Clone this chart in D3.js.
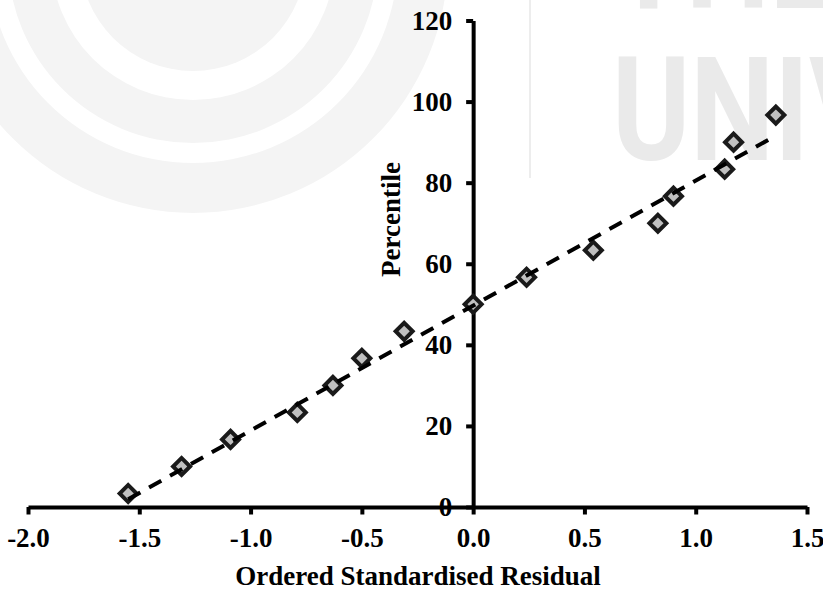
<!DOCTYPE html>
<html><head><meta charset="utf-8">
<script src="https://cdn.jsdelivr.net/npm/d3@7"></script>
<style>html,body{margin:0;padding:0;background:#fff;}svg{display:block;}</style>
</head><body>
<svg id="chart" width="823" height="590"></svg>
<script>
// Data
const residuals = [-1.55, -1.31, -1.09, -0.79, -0.63, -0.50, -0.31, 0.00, 0.24, 0.54, 0.83, 0.90, 1.13, 1.17, 1.36];
const percentiles = [3.33, 10.0, 16.67, 23.33, 30.0, 36.67, 43.33, 50.0, 56.67, 63.33, 70.0, 76.67, 83.33, 90.0, 96.67];
const trendX = [-1.55, 1.36];
const trendY = [1.9, 91.6];
const xTicks = [-2.0, -1.5, -1.0, -0.5, 0.0, 0.5, 1.0, 1.5];
const yTicks = [0, 20, 40, 60, 80, 100, 120];
const xTitle = "Ordered Standardised Residual";
const yTitle = "Percentile";

const svg = d3.select("#chart");
const font = "'Liberation Serif', 'Times New Roman', serif";

// faint watermark background
const wm = svg.append("g");
const arc = d3.arc();
[[205, 255], [142, 185], [0, 113]].forEach(([r0, r1]) => {
  wm.append("path").attr("transform", "translate(193,-42)")
    .attr("d", arc({innerRadius: r0, outerRadius: r1, startAngle: 0, endAngle: 2 * Math.PI}))
    .attr("fill", "#f4f4f4");
});
wm.append("line").attr("x1", 530).attr("x2", 530).attr("y1", 0).attr("y2", 178)
  .attr("stroke", "#ededed").attr("stroke-width", 2);
wm.append("text").attr("transform", "translate(612,160) scale(0.82,1)").text("UNIV")
  .attr("font-family", "Roboto, sans-serif").attr("font-weight", "bold").attr("font-size", 145).attr("fill", "#eaeaea");
wm.append("text").attr("transform", "translate(612,8) scale(0.82,1)").text("THE")
  .attr("font-family", "Roboto, sans-serif").attr("font-weight", "bold").attr("font-size", 145).attr("fill", "#eaeaea");

const x = d3.scaleLinear().domain([-2, 1.5]).range([28, 807]);
const y = d3.scaleLinear().domain([0, 120]).range([507, 20.5]);

// X axis
const gx = svg.append("g").attr("transform", `translate(0,${y(0)})`)
  .call(d3.axisBottom(x).tickValues(xTicks).tickSize(7.5).tickSizeOuter(0).tickPadding(13)
    .tickFormat(d => d.toFixed(1)));
// Y axis
const gy = svg.append("g").attr("transform", `translate(${x(0)},0)`)
  .call(d3.axisLeft(y).tickValues(yTicks).tickSize(7).tickSizeOuter(0).tickPadding(14)
    .tickFormat(d => String(d)));

[gx, gy].forEach(g => {
  g.select(".domain").attr("stroke", "#000").attr("stroke-width", 4);
  g.selectAll(".tick line").attr("stroke", "#000").attr("stroke-width", 4);
  g.selectAll(".tick text").attr("font-family", font).attr("font-weight", "bold")
    .attr("font-size", 27).attr("fill", "#000");
});

// Markers
svg.append("g").selectAll("path").data(residuals).join("path")
  .attr("d", d3.symbol(d3.symbolSquare, 144)())
  .attr("transform", (d, i) => `translate(${x(d)},${y(percentiles[i])}) rotate(45)`)
  .attr("fill", "#c0c0c0").attr("stroke", "#1a1a1a").attr("stroke-width", 4);

// Trend line (drawn over markers)
svg.append("path")
  .datum(trendX.map((d, i) => [d, trendY[i]]))
  .attr("d", d3.line().x(d => x(d[0])).y(d => y(d[1])))
  .attr("fill", "none").attr("stroke", "#000").attr("stroke-width", 4)
  .attr("stroke-dasharray", "14,10");

// Titles
svg.append("text").attr("x", 418).attr("y", 585).attr("text-anchor", "middle")
  .attr("font-family", font).attr("font-weight", "bold").attr("font-size", 27).text(xTitle);
svg.append("text").attr("transform", "translate(400,219.5) rotate(-90)").attr("text-anchor", "middle")
  .attr("font-family", font).attr("font-weight", "bold").attr("font-size", 27).text(yTitle);
</script>
</body></html>
